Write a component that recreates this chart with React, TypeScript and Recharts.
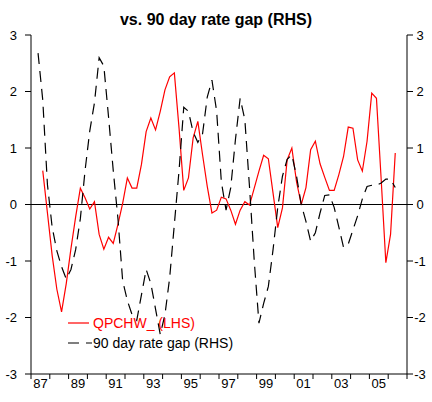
import { ComposedChart, Line, XAxis, YAxis, ReferenceLine, Legend } from "recharts";

const FONT = "'Liberation Sans', Arial, sans-serif";

const firstYear = 1987;
const lastYear = 2007;
const yearTicks = [
  1987, 1988, 1989, 1990, 1991, 1992, 1993, 1994, 1995, 1996, 1997,
  1998, 1999, 2000, 2001, 2002, 2003, 2004, 2005, 2006, 2007,
];
const valueTicks = [-3, -2, -1, 0, 1, 2, 3];

// quarterly, QPCHW_ starts 1987 Q3
const qpchwStartQ = 2;
const qpchw = [
  0.6, -0.15, -0.9, -1.5, -1.9, -1.4, -0.78, -0.22, 0.29, 0.12,
  -0.08, 0.05, -0.53, -0.79, -0.58, -0.69, -0.35, 0.02, 0.47, 0.29,
  0.29, 0.71, 1.29, 1.53, 1.32, 1.65, 2.03, 2.26, 2.33, 1.35,
  0.25, 0.47, 1.18, 1.47, 0.88, 0.32, -0.15, -0.1, 0.13, 0.1,
  -0.1, -0.35, -0.1, 0.05, -0.01, 0.29, 0.59, 0.87, 0.81, 0.2,
  -0.41, -0.06, 0.79, 1.0, 0.4, 0.0, 0.3, 0.97, 1.12, 0.72,
  0.48, 0.25, 0.25, 0.53, 0.85, 1.37, 1.35, 0.79, 0.59, 1.12,
  1.97, 1.88, 0.45, -1.03, -0.53, 0.91,
];

// 90 day rate gap starts 1987 Q2
const gapStartQ = 1;
const rateGap = [
  2.68, 1.85, 0.35, -0.4, -0.82, -1.1, -1.32, -1.15, -0.8, -0.25,
  0.6, 1.3, 1.8, 2.6, 2.45, 1.55, 0.6, -0.25, -1.35, -1.7,
  -1.95, -2.05, -1.6, -1.15, -1.4, -1.85, -2.3, -1.95, -1.3, -0.35,
  0.6, 1.72, 1.65, 1.28, 1.1, 1.25, 1.9, 2.2, 1.65, 0.4,
  -0.1, 0.3, 1.15, 1.88, 1.5, 0.3, -1.0, -2.1, -1.75, -1.45,
  -0.8, -0.05, 0.5, 0.8, 0.88, 0.5, 0.0, -0.3, -0.65, -0.5,
  -0.15, 0.16, 0.17, -0.05, -0.4, -0.76, -0.7, -0.45, -0.2, 0.1,
  0.32, 0.34, 0.34, 0.38, 0.45, 0.45, 0.3,
];

const data = Array.from({ length: (lastYear - firstYear) * 4 }, (_, q) => {
  const a = qpchw[q - qpchwStartQ];
  const b = rateGap[q - gapStartQ];
  return {
    t: firstYear + (q + 0.5) / 4,
    qpchw: a === undefined ? null : a,
    gap: b === undefined ? null : b,
  };
});

// year labels sit in the middle of each year slot, odd years only
const YearTick = ({ x, y, payload }: any) => {
  const yr = payload.value;
  if (yr % 2 === 0 || yr >= lastYear) return null;
  return (
    <text x={x + 9.4} y={y} dy="0.71em" textAnchor="middle" fill="#000" fontSize={13} fontFamily={FONT}>
      {String(yr).slice(2)}
    </text>
  );
};

const RightTick = ({ x, y, payload }: any) => (
  <text x={x + 6} y={y} dy="0.355em" textAnchor="middle" fill="#000" fontSize={13} fontFamily={FONT}>
    {payload.value}
  </text>
);

const LegendBox = () => (
  <div style={{ fontFamily: FONT, fontSize: 14, lineHeight: "20px" }}>
    <div style={{ display: "flex", alignItems: "center", height: 20 }}>
      <svg width={25} height={20}>
        <line x1={0} y1={10} x2={21} y2={10} stroke="#ff0000" strokeWidth={1.2} />
      </svg>
      <span style={{ color: "#ff0000" }}>QPCHW_ (LHS)</span>
    </div>
    <div style={{ display: "flex", alignItems: "center", height: 20 }}>
      <svg width={25} height={20}>
        <line x1={0} y1={10} x2={24} y2={10} stroke="#000" strokeWidth={1.2} strokeDasharray="11 7" />
      </svg>
      <span style={{ color: "#000" }}>90 day rate gap (RHS)</span>
    </div>
  </div>
);

export default function App() {
  return (
    <div style={{ position: "relative", width: 432, height: 402, background: "#fff" }}>
      <style>{"body{margin:0}"}</style>
      <div
        style={{
          position: "absolute",
          top: 11,
          left: 0,
          width: 432,
          textAlign: "center",
          fontFamily: FONT,
          fontWeight: "bold",
          fontSize: 16,
          color: "#000",
        }}
      >
        vs. 90 day rate gap (RHS)
      </div>
      <ComposedChart width={432} height={402} data={data} margin={{ top: 35, right: 0, bottom: 0, left: 0 }}>
        <XAxis
          dataKey="t"
          type="number"
          domain={[firstYear, lastYear]}
          ticks={yearTicks}
          interval={0}
          height={28}
          stroke="#000"
          tickSize={5}
          tickMargin={0}
          tick={<YearTick />}
        />
        <YAxis
          yAxisId="left"
          domain={[-3, 3]}
          ticks={valueTicks}
          width={31}
          stroke="#000"
          tickSize={6}
          tickMargin={8}
          tick={{ fill: "#000", fontSize: 13, fontFamily: FONT }}
        />
        <YAxis
          yAxisId="right"
          orientation="right"
          domain={[-3, 3]}
          ticks={valueTicks}
          width={25}
          stroke="#000"
          tickSize={6}
          tickMargin={1}
          tick={<RightTick />}
        />
        <ReferenceLine yAxisId="left" y={0} stroke="#000" strokeWidth={1} />
        <Line
          yAxisId="left"
          type="linear"
          dataKey="qpchw"
          stroke="#ff0000"
          strokeWidth={1.2}
          dot={false}
          isAnimationActive={false}
        />
        <Line
          yAxisId="right"
          type="linear"
          dataKey="gap"
          stroke="#000"
          strokeWidth={1.2}
          strokeDasharray="11 7"
          dot={false}
          isAnimationActive={false}
        />
        <Legend
          layout="vertical"
          align="center"
          verticalAlign="middle"
          wrapperStyle={{ left: 68, top: 313, width: 220 }}
          content={<LegendBox />}
        />
      </ComposedChart>
    </div>
  );
}
